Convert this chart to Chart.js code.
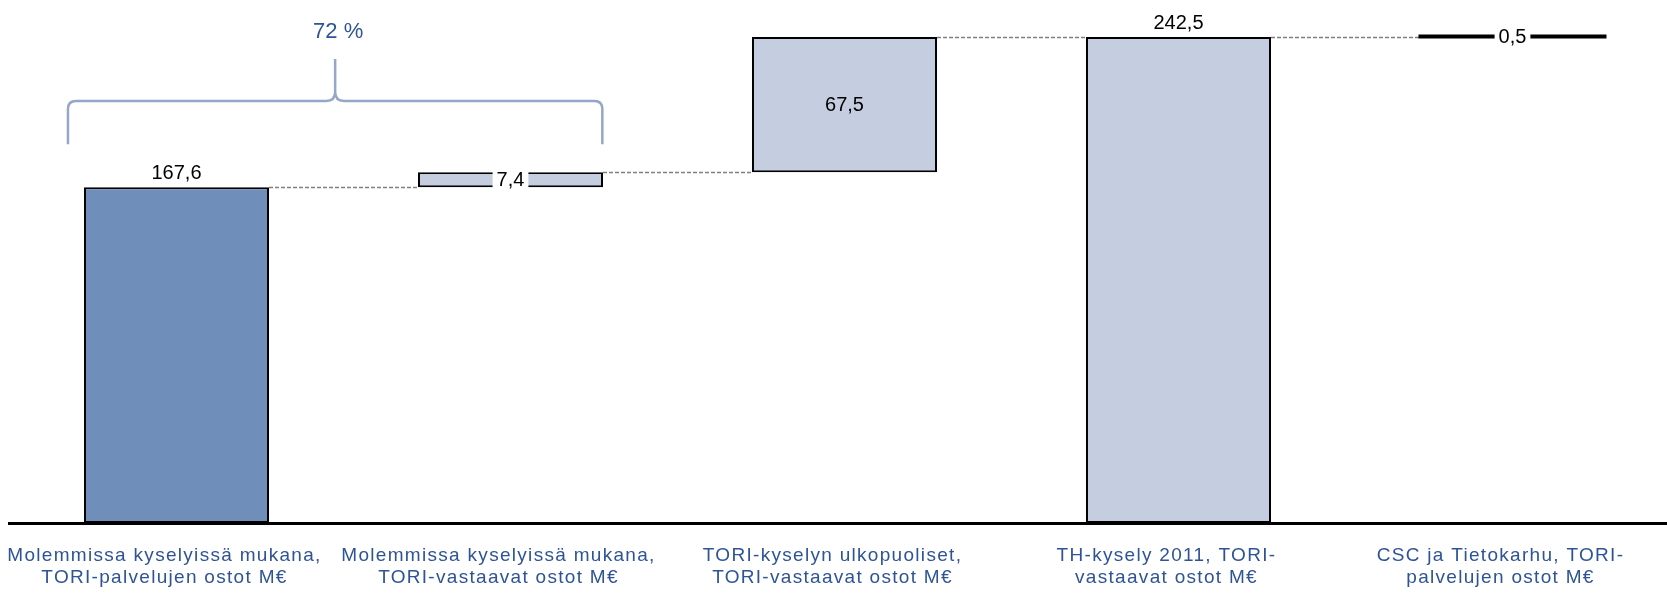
<!DOCTYPE html>
<html lang="fi">
<head>
<meta charset="utf-8">
<title>TORI-vastaavat ostot</title>
<script src="https://cdn.jsdelivr.net/npm/chart.js@4/dist/chart.umd.min.js"></script>
<style>
  html, body { margin: 0; padding: 0; background: #ffffff; }
  canvas { display: block; }
</style>
</head>
<body>
<canvas id="chart" width="1667" height="593"></canvas>
<script>
// Category labels (two lines each)
const categories = [
  ['Molemmissa kyselyissä mukana,', 'TORI-palvelujen ostot M€'],
  ['Molemmissa kyselyissä mukana,', 'TORI-vastaavat ostot M€'],
  ['TORI-kyselyn ulkopuoliset,', 'TORI-vastaavat ostot M€'],
  ['TH-kysely 2011, TORI-', 'vastaavat ostot M€'],
  ['CSC ja Tietokarhu, TORI-', 'palvelujen ostot M€']
];
// Amounts in M€
const values = [167.6, 7.4, 67.5, 242.5, 0.5];
// 'total' bars stand on zero, 'step' bars continue from the running sum
const kinds = ['total', 'step', 'step', 'total', 'step'];

const barFills = ['#6F8EB9', '#C4CEE0', '#C4CEE0', '#C4CEE0', '#000000'];
const FONT = '"Liberation Sans", Arial, Helvetica, sans-serif';

// Floating ranges for the waterfall
let running = 0;
const ranges = values.map((v, i) => {
  if (kinds[i] === 'total') { running = v; return [0, v]; }
  const r = [running, running + v];
  running += v;
  return r;
});

// Share of the first two bars in the TH total
const sharePct = Math.round((values[0] + values[1]) / values[3] * 100);

const fmt = v => v.toFixed(1).replace('.', ',');
const isSliver = i => values[i] < 2;

// Slightly spaced lettering for the category axis
const axisLetteringPlugin = {
  id: 'axisLettering',
  beforeDraw(chart) { chart.ctx.letterSpacing = '1.3px'; },
  beforeDatasetsDraw(chart) { chart.ctx.letterSpacing = '0px'; }
};

// Dashed connectors between the ends of consecutive bars
const connectorPlugin = {
  id: 'connectors',
  beforeDatasetsDraw(chart) {
    const meta = chart.getDatasetMeta(0);
    const ctx = chart.ctx;
    ctx.save();
    ctx.strokeStyle = '#808080';
    ctx.lineWidth = 1.5;
    ctx.setLineDash([4, 2]);
    for (let i = 0; i < meta.data.length - 1; i++) {
      const a = meta.data[i], b = meta.data[i + 1];
      const y = Math.round(a.y) + 0.5;
      ctx.beginPath();
      ctx.moveTo(a.x + a.width / 2, y);
      ctx.lineTo(b.x - b.width / 2, y);
      ctx.stroke();
    }
    ctx.restore();
  }
};

// Value labels: above totals, centred on steps (with a white plate on thin bars)
const valueLabelPlugin = {
  id: 'valueLabels',
  afterDatasetsDraw(chart) {
    const meta = chart.getDatasetMeta(0);
    const ctx = chart.ctx;
    ctx.save();
    ctx.font = '20px ' + FONT;
    ctx.textAlign = 'center';
    ctx.textBaseline = 'middle';
    meta.data.forEach((bar, i) => {
      const txt = fmt(values[i]);
      let ty;
      if (kinds[i] === 'total') {
        ty = bar.y - 15;
      } else {
        ty = (bar.y + bar.base) / 2;
        if (Math.abs(bar.base - bar.y) < 22) {
          const w = ctx.measureText(txt).width + 8;
          ctx.fillStyle = '#ffffff';
          ctx.fillRect(bar.x - w / 2, ty - 11, w, 22);
        }
      }
      ctx.fillStyle = '#000000';
      ctx.fillText(txt, bar.x, ty + 1);
    });
    ctx.restore();
  }
};

// Curly brace over the first two bars with their share of the total
const bracePlugin = {
  id: 'brace',
  afterDraw(chart, args, opts) {
    const xs = chart.scales.x, ys = chart.scales.y;
    const L = xs.getPixelForValue(opts.from);
    const R = xs.getPixelForValue(opts.to);
    const C = (L + R) / 2;
    const foot = ys.getPixelForValue(opts.foot);
    const H = ys.getPixelForValue(opts.level);
    const peak = ys.getPixelForValue(opts.peak);
    const r = 8, rc = 9;
    const ctx = chart.ctx;
    ctx.save();
    ctx.strokeStyle = opts.color;
    ctx.lineWidth = 2.5;
    ctx.lineJoin = 'round';
    ctx.beginPath();
    ctx.moveTo(L, foot);
    ctx.lineTo(L, H + r);
    ctx.quadraticCurveTo(L, H, L + r, H);
    ctx.lineTo(C - rc, H);
    ctx.quadraticCurveTo(C, H, C, H - rc);
    ctx.lineTo(C, peak);
    ctx.moveTo(C, H - rc);
    ctx.quadraticCurveTo(C, H, C + rc, H);
    ctx.lineTo(R - r, H);
    ctx.quadraticCurveTo(R, H, R, H + r);
    ctx.lineTo(R, foot);
    ctx.stroke();
    ctx.fillStyle = opts.textColor;
    ctx.font = '22px ' + FONT;
    ctx.textAlign = 'center';
    ctx.textBaseline = 'middle';
    ctx.fillText(sharePct + ' %', C + 3, ys.getPixelForValue(opts.textAt));
    ctx.restore();
  }
};

new Chart(document.getElementById('chart'), {
  type: 'bar',
  data: {
    datasets: [{
      data: ranges.map((r, i) => ({ x: i, y: r })),
      backgroundColor: c => barFills[c.dataIndex],
      borderColor: '#000000',
      borderWidth: c => isSliver(c.dataIndex) ? 0 : 2,
      borderSkipped: false,
      inflateAmount: c => isSliver(c.dataIndex) ? 1.5 : 0,
      barPercentage: 0.554,
      categoryPercentage: 1
    }]
  },
  options: {
    responsive: false,
    animation: false,
    devicePixelRatio: 1,
    layout: { padding: { left: 9.5, right: 0, top: 0, bottom: 0 } },
    plugins: {
      legend: { display: false },
      tooltip: { enabled: false },
      brace: {
        from: -0.325, to: 1.275,
        foot: 189, level: 210.6, peak: 231.5, textAt: 245,
        color: '#95A6C8', textColor: '#2F5496'
      }
    },
    scales: {
      x: {
        type: 'linear',
        offset: false,
        min: -0.5,
        max: 4.4626,
        grid: { display: false, drawTicks: false, offset: false },
        border: { display: true, color: '#000000', width: 3 },
        afterBuildTicks: s => { s.ticks = categories.map((_, i) => ({ value: i })); },
        afterFit: s => { s.height = 70; },
        ticks: {
          autoSkip: false,
          maxRotation: 0,
          padding: 22,
          labelOffset: -12,
          color: '#2F5496',
          font: { family: FONT, size: 19, lineHeight: 1.16 },
          callback: v => categories[v]
        }
      },
      y: {
        display: false,
        min: 0,
        max: 261
      }
    }
  },
  plugins: [axisLetteringPlugin, connectorPlugin, valueLabelPlugin, bracePlugin]
});
</script>
</body>
</html>
